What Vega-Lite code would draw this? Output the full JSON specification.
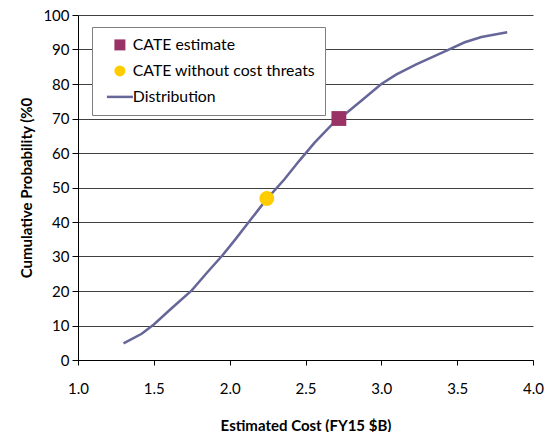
{
  "$schema": "https://vega.github.io/schema/vega-lite/v6.json",
  "width": 455,
  "height": 345,
  "autosize": {"type": "none"},
  "padding": {"left": 78, "top": 15, "right": 13, "bottom": 72},
  "background": "white",
  "config": {
    "font": "Lato",
    "view": {"stroke": null},
    "axis": {"labelFont": "Lato", "titleFont": "Lato", "labelColor": "#000000", "titleColor": "#000000", "domainColor": "#000000", "tickColor": "#000000"}
  },
  "data": {
    "values": [
      {"series": "Distribution", "cost": 1.30, "prob": 4.8},
      {"series": "Distribution", "cost": 1.42, "prob": 7.6},
      {"series": "Distribution", "cost": 1.50, "prob": 10.3},
      {"series": "Distribution", "cost": 1.61, "prob": 14.7},
      {"series": "Distribution", "cost": 1.75, "prob": 20.2},
      {"series": "Distribution", "cost": 1.85, "prob": 25.3},
      {"series": "Distribution", "cost": 1.95, "prob": 30.2},
      {"series": "Distribution", "cost": 2.04, "prob": 35.1},
      {"series": "Distribution", "cost": 2.13, "prob": 40.2},
      {"series": "Distribution", "cost": 2.24, "prob": 46.4},
      {"series": "Distribution", "cost": 2.36, "prob": 52.3},
      {"series": "Distribution", "cost": 2.46, "prob": 57.8},
      {"series": "Distribution", "cost": 2.56, "prob": 63.0},
      {"series": "Distribution", "cost": 2.68, "prob": 68.5},
      {"series": "Distribution", "cost": 2.77, "prob": 71.6},
      {"series": "Distribution", "cost": 2.87, "prob": 75.2},
      {"series": "Distribution", "cost": 3.00, "prob": 80.0},
      {"series": "Distribution", "cost": 3.10, "prob": 82.8},
      {"series": "Distribution", "cost": 3.23, "prob": 85.7},
      {"series": "Distribution", "cost": 3.43, "prob": 89.7},
      {"series": "Distribution", "cost": 3.55, "prob": 92.1},
      {"series": "Distribution", "cost": 3.66, "prob": 93.6},
      {"series": "Distribution", "cost": 3.83, "prob": 95.0},
      {"series": "CATE estimate", "cost": 2.72, "prob": 70.0},
      {"series": "CATE without cost threats", "cost": 2.245, "prob": 46.8}
    ]
  },
  "encoding": {
    "x": {
      "field": "cost", "type": "quantitative",
      "scale": {"domain": [1, 4], "nice": false, "zero": false},
      "axis": {
        "title": "Estimated Cost (FY15 $B)", "values": [1, 1.5, 2, 2.5, 3, 3.5, 4], "format": ".1f",
        "grid": false, "tickSize": 5, "labelFontSize": 15, "labelPadding": 16, "labelFlush": false,
        "titleFontSize": 15, "titleFontWeight": "bold", "titlePadding": 22
      }
    },
    "y": {
      "field": "prob", "type": "quantitative",
      "scale": {"domain": [0, 100], "nice": false},
      "axis": {
        "title": "Cumulative Probability (%0", "values": [0, 10, 20, 30, 40, 50, 60, 70, 80, 90, 100],
        "grid": true, "gridColor": "#404040", "gridWidth": 1, "tickSize": 6, "labelFontSize": 15, "labelPadding": 3,
        "titleFontSize": 15, "titleFontWeight": "bold", "titlePadding": 8
      }
    },
    "color": {
      "field": "series", "type": "nominal",
      "scale": {"domain": ["CATE estimate", "CATE without cost threats", "Distribution"], "range": ["#993366", "#ffcc00", "#666699"]},
      "legend": {
        "title": null, "orient": "none", "legendX": 14, "legendY": 12,
        "strokeColor": "#7f7f7f", "fillColor": "white", "padding": 10,
        "labelFont": "Lato", "labelFontSize": 15.8, "labelColor": "#000000", "labelOffset": 5, "labelLimit": 400,
        "rowPadding": 9, "symbolOffset": 10,
        "encode": {
          "symbols": {
            "update": {
              "stroke": {"scale": "color", "field": "value"},
              "strokeWidth": {"signal": "datum.value === 'Distribution' ? 2.5 : 0"},
              "size": {"signal": "datum.value === 'Distribution' ? 676 : 121"}
            }
          }
        }
      }
    }
  },
  "layer": [
    {
      "transform": [{"filter": "datum.series === 'Distribution'"}],
      "mark": {"type": "line", "strokeWidth": 2.5},
      "encoding": {"order": {"field": "cost", "type": "quantitative"}}
    },
    {
      "transform": [{"filter": "datum.series !== 'Distribution'"}],
      "mark": {"type": "point", "filled": true, "opacity": 1, "size": 220},
      "encoding": {
        "shape": {
          "field": "series", "type": "nominal",
          "scale": {"domain": ["CATE estimate", "CATE without cost threats", "Distribution"], "range": ["square", "circle", "stroke"]},
          "legend": {
            "title": null, "orient": "none", "legendX": 14, "legendY": 12,
            "strokeColor": "#7f7f7f", "fillColor": "white", "padding": 10,
            "labelFont": "Lato", "labelFontSize": 15.8, "labelColor": "#000000", "labelOffset": 5, "labelLimit": 400,
            "rowPadding": 9, "symbolOffset": 10
          }
        }
      }
    }
  ]
}
